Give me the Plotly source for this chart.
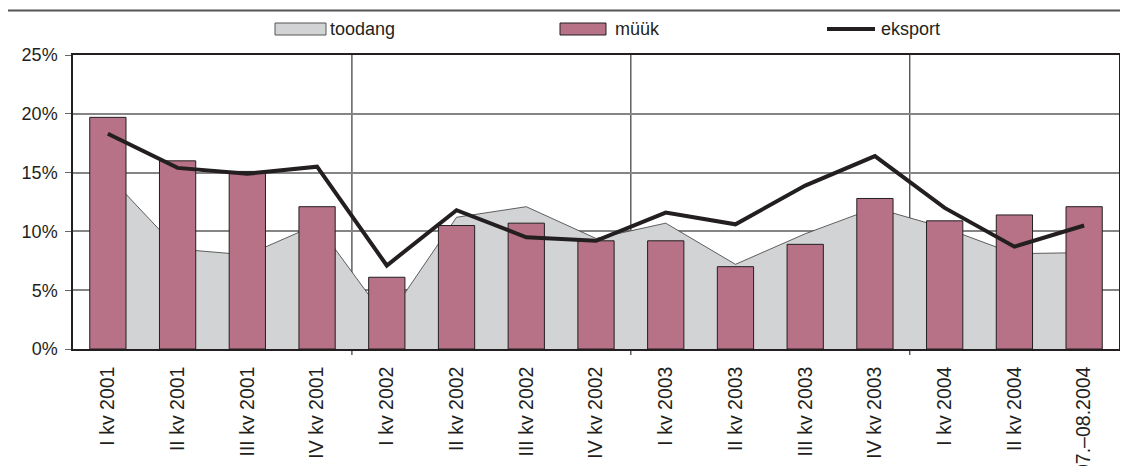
import plotly.graph_objects as go

categories = ["I kv 2001", "II kv 2001", "III kv 2001", "IV kv 2001",
              "I kv 2002", "II kv 2002", "III kv 2002", "IV kv 2002",
              "I kv 2003", "II kv 2003", "III kv 2003", "IV kv 2003",
              "I kv 2004", "II kv 2004", "07.–08.2004"]
toodang = [14.8, 8.5, 8.0, 10.6, 2.5, 11.2, 12.1, 9.4, 10.7, 7.2, 9.8, 12.0, 10.3, 8.1, 8.2]
myyk = [19.7, 16.0, 15.1, 12.1, 6.1, 10.5, 10.7, 9.2, 9.2, 7.0, 8.9, 12.8, 10.9, 11.4, 12.1]
eksport = [18.3, 15.4, 14.9, 15.5, 7.1, 11.8, 9.5, 9.2, 11.6, 10.6, 13.9, 16.4, 12.0, 8.7, 10.5]
y_ticks = [0, 5, 10, 15, 20, 25]
y_ticktext = ["0%", "5%", "10%", "15%", "20%", "25%"]
series_names = ["toodang", "müük", "eksport"]

# The page body has an 8px margin, so the figure is drawn 8px in from the
# window's top-left corner; size and place everything in window pixels.
OFF = 8
WIN_W, WIN_H = 1128, 466
W, H = WIN_W - OFF, WIN_H - OFF
PLOT_L, PLOT_R, PLOT_T, PLOT_B = 73, 1119, 55, 349      # window pixels
L, R, T, B = PLOT_L - OFF, WIN_W - PLOT_R, PLOT_T - OFF, WIN_H - PLOT_B
PW, PH = W - L - R, H - T - B

def px(x):
    return (x - PLOT_L) / PW

def py(y):
    return (PLOT_B - y) / PH

FONT = "Liberation Sans, Arial, sans-serif"
DARK = "#231f20"
GREY_FILL = "#d1d3d4"
MAUVE = "#b77287"

fig = go.Figure()
fig.add_trace(go.Scatter(x=categories, y=toodang, name=series_names[0], mode="lines",
                         fill="tozeroy", fillcolor=GREY_FILL,
                         line=dict(color="#3a3a3a", width=0.8),
                         xaxis="x", yaxis="y", showlegend=False))
fig.add_trace(go.Bar(x=categories, y=myyk, name=series_names[1], width=0.52,
                     marker=dict(color=MAUVE, line=dict(color=DARK, width=1)),
                     xaxis="x2", yaxis="y2", showlegend=False))
fig.add_trace(go.Scatter(x=categories, y=eksport, name=series_names[2], mode="lines",
                         line=dict(color=DARK, width=4),
                         xaxis="x2", yaxis="y2", showlegend=False))

n = len(categories)
xrange_ = [-0.5, n - 0.5]
shapes = []
# year separators (where the year changes between consecutive categories)
years = [c[-4:] for c in categories]
for i in range(1, n):
    if years[i] != years[i - 1]:
        shapes.append(dict(type="line", xref="x", yref="paper", x0=i - 0.5, x1=i - 0.5,
                           y0=-6 / PH, y1=1, line=dict(color="#111111", width=1), layer="below"))
# outer frame
shapes.append(dict(type="line", xref="paper", yref="paper", x0=px(7), x1=px(1140),
                   y0=py(10.5), y1=py(10.5), line=dict(color="#555555", width=2)))
shapes.append(dict(type="line", xref="paper", yref="paper", x0=px(7), x1=px(7),
                   y0=py(10.5), y1=py(490), line=dict(color="#555555", width=1.2)))
# legend swatches
shapes.append(dict(type="rect", xref="paper", yref="paper", x0=px(275), x1=px(326),
                   y0=py(35), y1=py(23), fillcolor=GREY_FILL, line=dict(color="#555555", width=1)))
shapes.append(dict(type="rect", xref="paper", yref="paper", x0=px(560), x1=px(606),
                   y0=py(35), y1=py(23), fillcolor=MAUVE, line=dict(color=DARK, width=1)))
shapes.append(dict(type="line", xref="paper", yref="paper", x0=px(827), x1=px(875),
                   y0=py(29), y1=py(29), line=dict(color=DARK, width=4)))

annotations = []
for name, xpix in zip(series_names, [328, 613, 879]):
    annotations.append(dict(text=name, xref="paper", yref="paper", x=px(xpix), y=py(29),
                            xanchor="left", yanchor="middle", showarrow=False,
                            font=dict(family=FONT, size=18, color=DARK)))

fig.update_layout(
    width=W, height=H,
    margin=dict(l=L, r=R, t=T, b=B, pad=0, autoexpand=False),
    paper_bgcolor="white", plot_bgcolor="white",
    font=dict(family=FONT, size=18, color=DARK),
    showlegend=False,
    shapes=shapes,
    annotations=annotations,
    xaxis=dict(type="category", categoryorder="array", categoryarray=categories,
               range=xrange_, tickangle=-90, ticks="", showgrid=False, automargin=False,
               ticklabelstandoff=8,
               showline=True, mirror=True, linecolor=DARK, linewidth=1.5,
               tickfont=dict(family=FONT, size=19.5, color=DARK)),
    yaxis=dict(range=[0, 25], tickvals=y_ticks, ticktext=y_ticktext, showgrid=True,
               automargin=False, ticklabelstandoff=4,
               gridcolor="#858585", gridwidth=1.5, ticks="outside", ticklen=6,
               tickcolor="#666666", showline=True, mirror=True, linecolor=DARK,
               linewidth=1.5, zeroline=False,
               tickfont=dict(family=FONT, size=18, color=DARK)),
    xaxis2=dict(type="category", categoryorder="array", categoryarray=categories,
                range=xrange_, overlaying="x", visible=False, automargin=False),
    yaxis2=dict(range=[0, 25], overlaying="y", visible=False, automargin=False),
)

fig.write_html("out.html")
